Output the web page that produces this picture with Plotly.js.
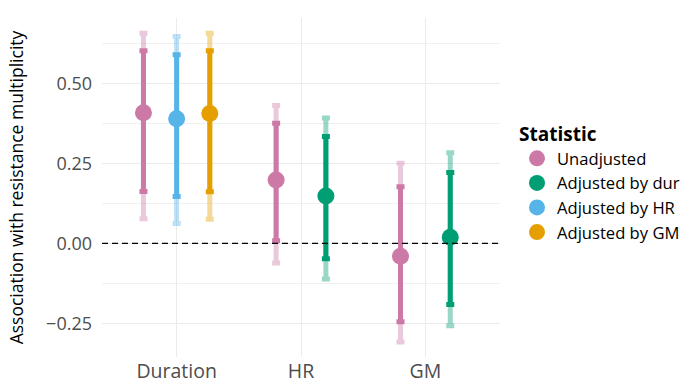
<!DOCTYPE html>
<html>
<head>
<meta charset="utf-8">
<script src="https://cdn.plot.ly/plotly-3.0.1.min.js"></script>
<style>html,body{margin:0;padding:0;background:#fff;}#chart{width:682px;height:379px;}</style>
</head>
<body>
<div id="chart"></div>
<script>
// ---- data ----
const categories = ['Duration', 'HR', 'GM'];
const statistics = ['Unadjusted', 'Adjusted by dur', 'Adjusted by HR', 'Adjusted by GM'];
const colors = ['#CC79A7', '#009E73', '#56B4E9', '#E69F00'];
const lightColors = ['rgba(204,121,167,0.4)', 'rgba(0,158,115,0.4)', 'rgba(86,180,233,0.4)', 'rgba(230,159,0,0.4)'];

// per statistic, values across categories (null = not estimated)
const estimate = [
  [0.408, 0.198, -0.040],
  [null, 0.148, 0.019],
  [0.389, null, null],
  [0.406, null, null]
];
const innerLow = [
  [0.162, 0.008, -0.245],
  [null, -0.048, -0.191],
  [0.146, null, null],
  [0.161, null, null]
];
const innerHigh = [
  [0.602, 0.375, 0.177],
  [null, 0.334, 0.221],
  [0.589, null, null],
  [0.602, null, null]
];
const outerLow = [
  [0.077, -0.061, -0.308],
  [null, -0.111, -0.257],
  [0.062, null, null],
  [0.075, null, null]
];
const outerHigh = [
  [0.656, 0.431, 0.250],
  [null, 0.392, 0.283],
  [0.646, null, null],
  [0.656, null, null]
];

// ---- dodge positions (like position_dodge(width = 0.8)) ----
const dodgeWidth = 0.8;
function positions(s) {
  const xs = [];
  for (let c = 0; c < categories.length; c++) {
    const present = [];
    for (let k = 0; k < statistics.length; k++) if (estimate[k][c] !== null) present.push(k);
    const n = present.length;
    const i = present.indexOf(s);
    if (i < 0) { xs.push(null); continue; }
    const w = dodgeWidth / n;
    xs.push((c + 1) + (i - (n - 1) / 2) * w);
  }
  return xs;
}

const traces = [];
// outer (light) intervals
statistics.forEach((name, s) => {
  const xs = positions(s);
  const idx = estimate[s].map((v, i) => v === null ? -1 : i).filter(i => i >= 0);
  traces.push({
    type: 'scatter', mode: 'markers', showlegend: false, hoverinfo: 'skip',
    x: idx.map(i => xs[i]), y: idx.map(i => estimate[s][i]),
    marker: {size: 1, color: 'rgba(0,0,0,0)'},
    error_y: {type: 'data', symmetric: false,
      array: idx.map(i => outerHigh[s][i] - estimate[s][i]),
      arrayminus: idx.map(i => estimate[s][i] - outerLow[s][i]),
      color: lightColors[s], thickness: 5, width: 4}
  });
});
// inner intervals + points
statistics.forEach((name, s) => {
  const xs = positions(s);
  const idx = estimate[s].map((v, i) => v === null ? -1 : i).filter(i => i >= 0);
  traces.push({
    type: 'scatter', mode: 'markers', name: name,
    x: idx.map(i => xs[i]), y: idx.map(i => estimate[s][i]),
    marker: {size: 17, color: colors[s]},
    error_y: {type: 'data', symmetric: false,
      array: idx.map(i => innerHigh[s][i] - estimate[s][i]),
      arrayminus: idx.map(i => estimate[s][i] - innerLow[s][i]),
      color: colors[s], thickness: 5, width: 4}
  });
});

const FONT = 'Open Sans, sans-serif';
const layout = {
  width: 682, height: 379,
  margin: {l: 102, r: 182, t: 18, b: 22, autoexpand: false},
  paper_bgcolor: '#fff', plot_bgcolor: '#fff',
  font: {family: FONT, size: 15, color: '#000'},
  showlegend: true,
  xaxis: {
    range: [0.4, 3.6], tickmode: 'array', tickvals: [1, 2, 3], ticktext: categories,
    showgrid: true, gridcolor: '#ebebeb', gridwidth: 1, zeroline: false, showline: false,
    ticks: '', ticklabelstandoff: 0,
    tickfont: {family: FONT, size: 19.5, color: '#4d4d4d'}, automargin: false, fixedrange: true
  },
  yaxis: {
    range: [-0.355, 0.704], tickmode: 'array', tickvals: [-0.25, 0, 0.25, 0.5],
    ticktext: ['\u22120.25', '0.00', '0.25', '0.50'],
    showgrid: true, gridcolor: '#ebebeb', gridwidth: 1, zeroline: false, showline: false,
    minor: {tickmode: 'array', tickvals: [-0.125, 0.125, 0.375, 0.625], showgrid: true, gridcolor: '#f0f0f0', gridwidth: 1, ticks: ''},
    ticks: '', ticklabelstandoff: 9,
    tickfont: {family: FONT, size: 18, color: '#4d4d4d'}, automargin: false,
    title: {text: 'Association with resistance multiplicity', font: {family: FONT, size: 17.5, color: '#000'}, standoff: 17},
    fixedrange: true
  },
  legend: {
    x: 1.0427, xanchor: 'left', y: 0.71, yanchor: 'top',
    title: {text: '<b>Statistic</b>', font: {family: FONT, size: 19, color: '#000'}},
    font: {family: FONT, size: 16.6, color: '#000'},
    bgcolor: 'rgba(0,0,0,0)', traceorder: 'normal'
  },
  shapes: [{type: 'line', xref: 'paper', x0: 0, x1: 1, yref: 'y', y0: 0, y1: 0,
    line: {color: '#000', width: 1.4, dash: '6px,4px'}, layer: 'above'}]
};

Plotly.newPlot('chart', traces, layout, {displayModeBar: false, staticPlot: true});
</script>
</body>
</html>
